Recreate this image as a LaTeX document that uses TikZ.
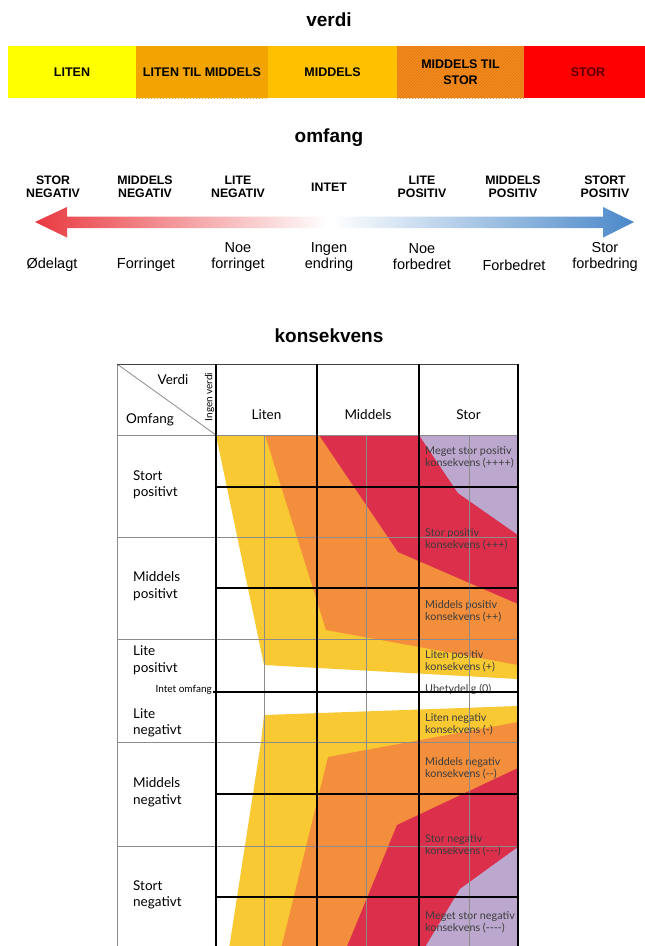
\documentclass[tikz,border=0pt]{standalone}
\usepackage{fontspec}
\setmainfont{Liberation Sans}
\newfontfamily\tabfont{Lato}
\usetikzlibrary{patterns}
\newcommand\hyph{\mbox{-}}
\definecolor{cyel}{HTML}{F8C933}
\definecolor{cora}{HTML}{F28E3C}
\definecolor{cred}{HTML}{DB2F4B}
\definecolor{cpur}{HTML}{BCA8CF}
\definecolor{bLiten}{HTML}{FFFF00}
\definecolor{bLTM}{HTML}{F7AA05}
\definecolor{hLTM}{HTML}{E89A00}
\definecolor{bMid}{HTML}{FFC000}
\definecolor{bMTS}{HTML}{F38C1E}
\definecolor{hMTS}{HTML}{E27610}
\definecolor{bStor}{HTML}{FF0000}
\definecolor{stortext}{HTML}{5A0000}
\definecolor{arred}{HTML}{E83A40}
\definecolor{arblue}{HTML}{4A88C9}
\definecolor{gline}{HTML}{8C8C8C}
\definecolor{ctext}{HTML}{3C3C3C}
\begin{document}
\begin{tikzpicture}[x=1pt,y=-1pt,
  titlelab/.style={font=\bfseries\fontsize{19}{22}\selectfont, inner sep=0pt},
  seg/.style={anchor=north west, minimum height=52pt, inner sep=0pt, outer sep=0pt, align=center, font=\bfseries\fontsize{12.5}{15.5}\selectfont},
  caplab/.style={font=\bfseries\fontsize{12.3}{13}\selectfont, align=center, inner sep=0pt},
  lowlab/.style={font=\fontsize{14.5}{16}\selectfont, align=center, inner sep=0pt},
  hdrlab/.style={font=\tabfont\fontsize{13.5}{16}\selectfont, inner sep=0pt},
  rowlab/.style={font=\tabfont\fontsize{13.5}{16.5}\selectfont, align=left, anchor=west, inner sep=0pt},
  smalllab/.style={font=\tabfont\fontsize{10}{12}\selectfont, inner sep=0pt},
  conlab/.style={font=\tabfont\fontsize{10.8}{12}\selectfont, align=left, anchor=west, inner sep=0pt, text=ctext},
  gthin/.style={draw=gline, line width=0.8pt},
  gthick/.style={draw=black, line width=1.3pt}]
\path[use as bounding box] (0,0) rectangle (645,946);
\clip (0,0) rectangle (645,946);
\fill[white] (0,0) rectangle (645,946);

% ---------- verdi ----------
\node[titlelab] (tverdi) at (329,20) {verdi};
\node[seg, fill=bLiten, minimum width=128pt] (sLiten) at (8,46) {LITEN};
\node[seg, minimum width=132pt, preaction={fill=bLTM}, pattern=north east lines, pattern color=hLTM] (sLTM) at (136,46) {LITEN TIL MIDDELS};
\node[seg, fill=bMid, minimum width=129pt] (sMid) at (268,46) {MIDDELS};
\node[seg, minimum width=127pt, preaction={fill=bMTS}, pattern=north east lines, pattern color=hMTS] (sMTS) at (397,46) {MIDDELS TIL\\STOR};
\node[seg, fill=bStor, minimum width=128pt, text=stortext] (sStor) at (524,46) {STOR};

% ---------- omfang ----------
\node[titlelab] (tomfang) at (329,138) {omfang};
\node[caplab] (o1) at (53,186.5) {STOR\\NEGATIV};
\node[caplab] (o2) at (145,186.5) {MIDDELS\\NEGATIV};
\node[caplab] (o3) at (238,186.5) {LITE\\NEGATIV};
\node[caplab] (o4) at (329,187) {INTET};
\node[caplab] (o5) at (422,186.5) {LITE\\POSITIV};
\node[caplab] (o6) at (513,186.5) {MIDDELS\\POSITIV};
\node[caplab] (o7) at (605,186.5) {STORT\\POSITIV};

\shade[left color=arred, middle color=arred!72, right color=white]
  (35,222) -- (67,207) -- (67,216.5) -- (328,216.5) -- (328,228) -- (67,228) -- (67,237.5) -- cycle;
\shade[left color=white, middle color=arblue!65, right color=arblue]
  (332,216.5) -- (603,216.5) -- (603,207) -- (634,222) -- (603,237.5) -- (603,228) -- (332,228) -- cycle;

\node[lowlab] (u1) at (52,265) {Ødelagt};
\node[lowlab] (u2) at (146,265) {Forringet};
\node[lowlab] (u3) at (238,257) {Noe\\forringet};
\node[lowlab] (u4) at (329,257) {Ingen\\endring};
\node[lowlab] (u5) at (422,257) {Noe\\forbedret};
\node[lowlab] (u6) at (514,265) {Forbedret};
\node[lowlab] (u7) at (605,257) {Stor\\forbedring};

% ---------- konsekvens ----------
\node[titlelab] (tkons) at (329,336) {konsekvens};

% coloured areas, positive half
\fill[cyel] (216,435) -- (264,665) -- (518,679) -- (518,435) -- cycle;
\fill[cora] (265,435) -- (326,630) -- (518,665) -- (518,435) -- cycle;
\fill[cred] (319,435) -- (398,552) -- (518,604) -- (518,435) -- cycle;
\fill[cpur] (419,435) -- (458,493) -- (518,535) -- (518,435) -- cycle;
% coloured areas, negative half
\fill[cyel] (264,715) -- (518,706) -- (518,949) -- (229,949) -- (261,742) -- cycle;
\fill[cora] (328,757) -- (518,722) -- (518,949) -- (281,949) -- cycle;
\fill[cred] (397,825) -- (518,768) -- (518,949) -- (346,949) -- cycle;
\fill[cpur] (460,889) -- (518,847) -- (518,949) -- (424,949) -- cycle;

% header texts
\node[hdrlab] (hVerdi) at (173,380) {Verdi};
\node[hdrlab] (hOmfang) at (150,420) {Omfang};
\node[smalllab, rotate=90] (hIngen) at (209.5,397) {Ingen verdi};
\node[hdrlab] (hLiten) at (266.5,415) {Liten};
\node[hdrlab] (hMiddels) at (368,415) {Middels};
\node[hdrlab] (hStor) at (468.5,415) {Stor};

% row labels
\node[rowlab] (r1) at (133,485) {Stort\\positivt};
\node[rowlab] (r2) at (133,586) {Middels\\positivt};
\node[rowlab] (r3) at (133,660) {Lite\\positivt};
\node[smalllab, anchor=east] (r0) at (212,690) {Intet omfang};
\node[rowlab] (r4) at (133,723) {Lite\\negativt};
\node[rowlab] (r5) at (133,792) {Middels\\negativt};
\node[rowlab] (r6) at (133,895) {Stort\\negativt};

% consequence labels
\node[conlab] (k4p) at (425,457.5) {Meget stor positiv\\konsekvens (++++)};
\node[conlab] (k3p) at (425,539) {Stor positiv\\konsekvens (+++)};
\node[conlab] (k2p) at (425,611) {Middels positiv\\konsekvens (++)};
\node[conlab] (k1p) at (425,661) {Liten positiv\\konsekvens (+)};
\node[conlab] (k0) at (425,689) {Ubetydelig (0)};
\node[conlab] (k1n) at (425,724.5) {Liten negativ\\konsekvens (\hyph)};
\node[conlab] (k2n) at (425,768) {Middels negativ\\konsekvens (\hyph\hyph)};
\node[conlab] (k3n) at (425,845) {Stor negativ\\konsekvens (\hyph\hyph\hyph)};
\node[conlab] (k4n) at (425,922.5) {Meget stor negativ\\konsekvens (\hyph\hyph\hyph\hyph)};

% grid: thin grey lines
\foreach \yy in {435,537,639,742,846,948} \draw[gthin] (117,\yy) -- (518,\yy);
\foreach \xx in {264,366,469} \draw[gthin] (\xx,435) -- (\xx,949);
\draw[gthin] (117,364) -- (117,949);
\draw[gthin] (117,364) -- (216,435);
\draw[draw=black!75, line width=1pt] (117,364) -- (518,364);
% grid: black lines
\foreach \yy in {487,588,794,897} \draw[gthick] (216,\yy) -- (518,\yy);
\draw[gthick] (213,692) -- (518,692);
\foreach \xx in {216,317,419,518} \draw[gthick] (\xx,364) -- (\xx,949);
\end{tikzpicture}
\end{document}
